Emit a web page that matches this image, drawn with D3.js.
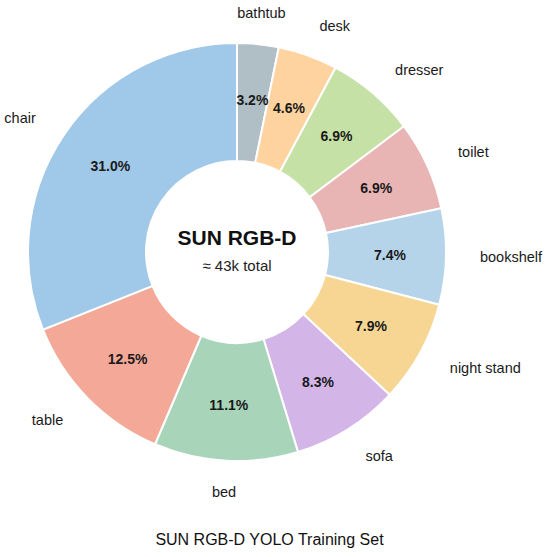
<!DOCTYPE html>
<html>
<head>
<meta charset="utf-8">
<script src="https://cdn.jsdelivr.net/npm/d3@7"></script>
<style>
  body { margin: 0; background: #fff; }
  text { font-family: "Liberation Sans", Arial, sans-serif; }
</style>
</head>
<body>
<div id="chart"></div>
<script>
// class shares of the training set, clockwise from 12 o'clock
var categories = ["bathtub", "desk", "dresser", "toilet", "bookshelf",
                  "night stand", "sofa", "bed", "table", "chair"];
var shares = [3.2, 4.6, 6.9, 6.9, 7.4, 7.9, 8.3, 11.1, 12.5, 31.0];
var colors = ["#b0bec5", "#fed3a0", "#c5e1a5", "#e8b4b4", "#b6d4e9",
              "#f6d692", "#d3b5e7", "#a8d5ba", "#f4a898", "#a0c8e8"];
var centerTitle = "SUN RGB-D";
var centerSub = "\u2248 43k total";
var chartTitle = "SUN RGB-D YOLO Training Set";

var width = 550, height = 557;
var cx = 237, cy = 252;
var outerR = 209, innerR = 91;

var svg = d3.select("#chart")
  .append("svg")
  .attr("width", width)
  .attr("height", height);

var data = categories.map(function(c, i) {
  return {name: c, value: shares[i], color: colors[i]};
});

var pie = d3.pie()
  .sort(null)
  .value(function(d) { return d.value; });

var arc = d3.arc()
  .innerRadius(innerR)
  .outerRadius(outerR);

// percent labels sit in the middle of the ring
var midArc = d3.arc()
  .innerRadius(153)
  .outerRadius(153);

var g = svg.append("g")
  .attr("transform", "translate(" + cx + "," + cy + ")");

var arcs = pie(data);

g.selectAll("path.slice")
  .data(arcs)
  .enter()
  .append("path")
    .attr("class", "slice")
    .attr("d", arc)
    .attr("fill", function(d) { return d.data.color; })
    .attr("stroke", "#fff")
    .attr("stroke-width", 2);

g.selectAll("text.pct")
  .data(arcs)
  .enter()
  .append("text")
    .attr("class", "pct")
    .attr("transform", function(d) { return "translate(" + midArc.centroid(d) + ")"; })
    .attr("text-anchor", "middle")
    .attr("dominant-baseline", "central")
    .style("font-size", "14px")
    .style("font-weight", "bold")
    .style("fill", "#1a1a1a")
    .text(function(d) { return d.data.value.toFixed(1) + "%"; });

// category names outside the ring
var labelR = 243;
g.selectAll("text.cat")
  .data(arcs)
  .enter()
  .append("text")
    .attr("class", "cat")
    .attr("x", function(d) {
      var a = (d.startAngle + d.endAngle) / 2;
      return labelR * Math.sin(a);
    })
    .attr("y", function(d) {
      var a = (d.startAngle + d.endAngle) / 2;
      return -240 * Math.cos(a);
    })
    .attr("text-anchor", function(d) {
      var s = Math.sin((d.startAngle + d.endAngle) / 2);
      if (Math.abs(s) < 0.2) return "middle";
      return s > 0 ? "start" : "end";
    })
    .attr("dominant-baseline", "central")
    .style("font-size", "14.5px")
    .style("fill", "#1a1a1a")
    .text(function(d) { return d.data.name; });

// center text
g.append("text")
  .attr("x", 0)
  .attr("y", -7)
  .attr("text-anchor", "middle")
  .style("font-size", "21px")
  .style("font-weight", "bold")
  .style("fill", "#111")
  .text(centerTitle);

g.append("text")
  .attr("x", 0)
  .attr("y", 19)
  .attr("text-anchor", "middle")
  .style("font-size", "15px")
  .style("fill", "#222")
  .text(centerSub);

// title below
svg.append("text")
  .attr("x", 269.5)
  .attr("y", 545)
  .attr("text-anchor", "middle")
  .style("font-size", "16px")
  .style("fill", "#111")
  .text(chartTitle);
</script>
</body>
</html>
